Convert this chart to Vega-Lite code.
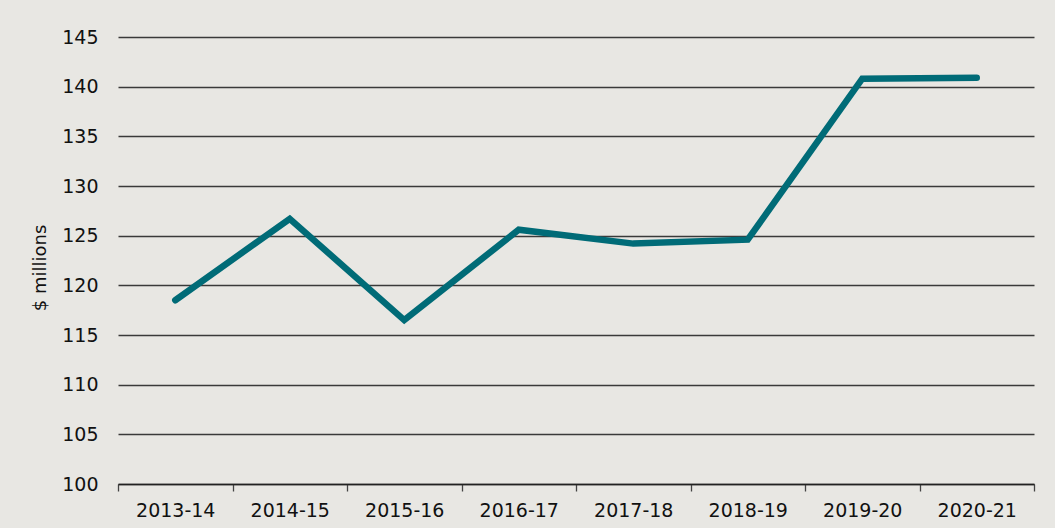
{
  "$schema": "https://vega.github.io/schema/vega-lite/v6.json",
  "width": 916,
  "height": 447,
  "autosize": {"type": "none"},
  "padding": {"left": 118, "top": 37, "right": 21, "bottom": 44},
  "background": "#e8e7e3",
  "config": {"view": {"stroke": null}, "font": "DejaVu Sans"},
  "data": {
    "values": [
      {"year": "2013-14", "value": 118.5},
      {"year": "2014-15", "value": 126.7},
      {"year": "2015-16", "value": 116.5},
      {"year": "2016-17", "value": 125.6},
      {"year": "2017-18", "value": 124.2},
      {"year": "2018-19", "value": 124.6},
      {"year": "2019-20", "value": 140.8},
      {"year": "2020-21", "value": 140.9}
    ]
  },
  "mark": {"type": "line", "color": "#006b77", "strokeWidth": 6.5, "strokeCap": "round", "strokeJoin": "miter"},
  "encoding": {
    "x": {
      "field": "year",
      "type": "ordinal",
      "scale": {"type": "band", "paddingInner": 0, "paddingOuter": 0},
      "axis": {
        "title": null,
        "labelAngle": 0,
        "tickBand": "extent",
        "domainColor": "#222222",
        "domainWidth": 1.3,
        "tickColor": "#444444",
        "tickWidth": 1.3,
        "tickSize": 7,
        "labelFontSize": 19,
        "labelColor": "#111111",
        "labelPadding": 10,
        "grid": false
      }
    },
    "y": {
      "field": "value",
      "type": "quantitative",
      "scale": {"domain": [100, 145], "nice": false, "zero": false},
      "axis": {
        "values": [100, 105, 110, 115, 120, 125, 130, 135, 140, 145],
        "title": "$ millions",
        "titleFontSize": 18,
        "titleFontWeight": "normal",
        "titleColor": "#111111",
        "titleAngle": -90,
        "titleX": -78,
        "titleY": 230.5,
        "titleAlign": "center",
        "titleBaseline": "middle",
        "domain": false,
        "ticks": false,
        "labelPadding": 20,
        "labelFontSize": 19,
        "labelColor": "#111111",
        "grid": true,
        "gridColor": "#3a3a3a",
        "gridWidth": 1.3
      }
    }
  }
}
